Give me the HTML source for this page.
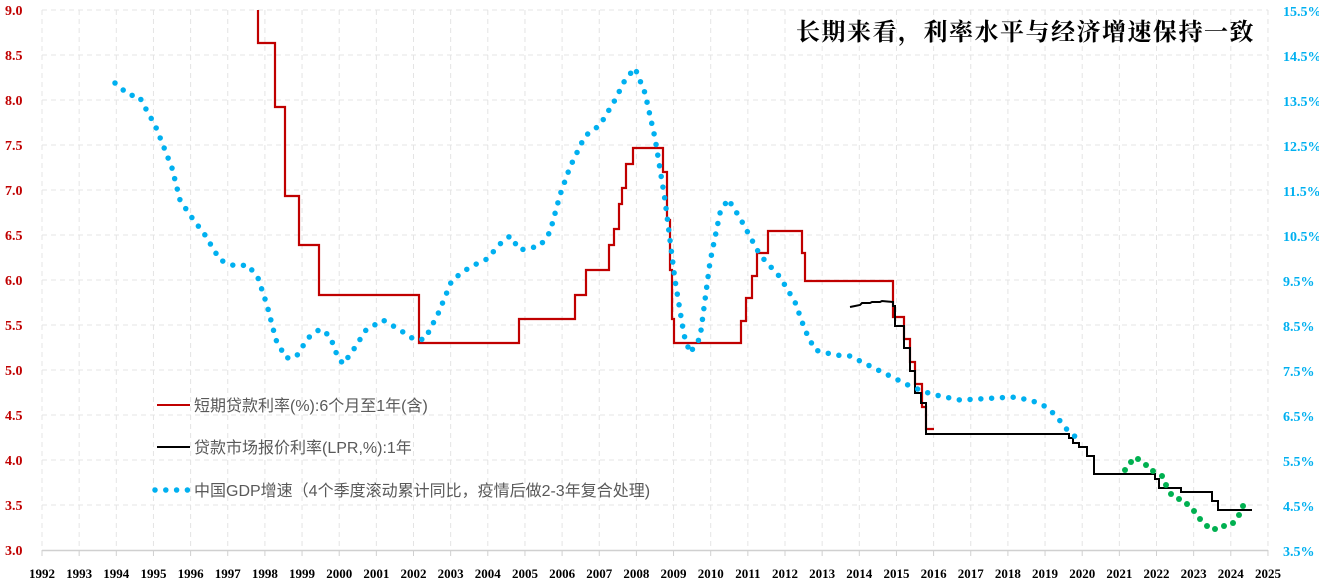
<!DOCTYPE html>
<html><head><meta charset="utf-8"><style>
body{margin:0;background:#fff;}
svg{display:block;font-family:"Liberation Sans","Noto Sans CJK SC",sans-serif;}
</style></head><body>
<svg width="1319" height="586" viewBox="0 0 1319 586">
<g id="grid" stroke="#e4e4e4" stroke-width="1" stroke-dasharray="5,4"></g>
<line x1="42" y1="550.5" x2="1268" y2="550.5" stroke="#d0d0d0" stroke-width="1.5"/>
<g id="ticks" stroke="#d0d0d0"></g>
<g id="ylab" font-size="14" fill="#c00000" font-weight="bold" font-family="Liberation Serif,serif"></g>
<g id="rlab" font-size="14" fill="#00b0f0" font-weight="bold" font-family="Liberation Serif,serif"></g>
<g id="xlab" font-size="13" fill="#000" font-weight="bold" font-family="Liberation Serif,serif" text-anchor="middle"></g>

<polyline fill="none" stroke="#c00000" stroke-width="2.2" points="258,10 258,43 275,43 275,107 285,107 285,196 299,196 299,245 319,245 319,295 419,295 419,343 519,343 519,319 575,319 575,295 586,295 586,270 609,270 609,245 614,245 614,229 619,229 619,204 622,204 622,188 626,188 626,164 633,164 633,148 663,148 663,172 667,172 667,220 670,220 670,270 672,270 672,319 674,319 674,343 741,343 741,321 746,321 746,298 752,298 752,276 757,276 757,253 768,253 768,231 802,231 802,253 805,253 805,281 893,281 893,317 904,317 904,339 910,339 910,362 915,362 915,384 922,384 922,407 926,407 926,429 934,429"/>
<polyline fill="none" stroke="#000" stroke-width="2" points="850,307 855,306 860,305 862,303 870,303 872,302 880,302 882,301 893,302 893,306 895,306 895,326 904,326 904,348 910,348 910,371 915,371 915,393 921,393 921,403 926,403 926,434 1069,434 1069,438 1073,438 1073,443 1079,443 1079,447 1087,447 1087,456 1094,456 1094,474 1155,474 1155,479 1159,479 1159,488 1181,488 1181,492 1212,492 1212,501 1218,501 1218,510 1252,510"/>

<path fill="none" stroke="#00b0f0" stroke-width="5.5" stroke-linecap="round" stroke-dasharray="0 10.8" d="M115,83 L129,95 L139,96 L147,111 L155,125 L163,145 L172,168 L180,200 L190,215 L205,235 L220,260 L235,266 L248,265 L258,278 L267,305 L276,340 L286,358 L296,357 L308,338 L320,329 L330,336 L337,355 L343,364 L352,352 L366,330 L383,320 L400,330 L415,340 L425,339 L438,314 L452,280 L470,267 L487,259 L500,244 L510,236 L520,250 L540,246 L550,232 L560,195 L570,167 L585,136 L600,125 L615,100 L625,80 L635,68 L645,93 L655,138 L665,200 L675,280 L684,335 L690,353 L700,338 L710,262 L720,213 L728,199 L740,218 L760,255 L780,277 L795,302 L805,330 L815,350 L835,355 L850,356 L870,366 L890,376 L910,386 L925,392 L940,396 L960,400 L978,399 L995,398 L1012,397 L1030,400 L1043,405 L1052,412 L1062,423 L1068,431 L1077,438"/>
<g fill="#00b050">
<circle cx="1125" cy="470" r="3"/><circle cx="1131" cy="462" r="3"/><circle cx="1138" cy="459" r="3"/><circle cx="1146" cy="465" r="3"/><circle cx="1153" cy="471" r="3"/><circle cx="1162" cy="476" r="3"/><circle cx="1166" cy="485" r="3"/><circle cx="1171" cy="494" r="3"/><circle cx="1179" cy="499" r="3"/><circle cx="1187" cy="504" r="3"/><circle cx="1194" cy="511" r="3"/><circle cx="1200" cy="519" r="3"/><circle cx="1207" cy="526" r="3"/><circle cx="1215" cy="529" r="3"/><circle cx="1224" cy="526" r="3"/><circle cx="1233" cy="523" r="3"/><circle cx="1239" cy="515" r="3"/><circle cx="1243" cy="506" r="3"/>
</g>

<text x="1255" y="40" text-anchor="end" font-size="24" font-weight="bold" fill="#000" font-family="Liberation Serif,'Noto Serif CJK SC',serif" letter-spacing="1.5">长期来看，利率水平与经济增速保持一致</text>

<line x1="157" y1="405" x2="190" y2="405" stroke="#c00000" stroke-width="2"/>
<text x="194" y="411" font-size="16" fill="#595959">短期贷款利率(%):6个月至1年(含)</text>
<line x1="157" y1="447" x2="190" y2="447" stroke="#000" stroke-width="2"/>
<text x="194" y="453" font-size="16" fill="#595959">贷款市场报价利率(LPR,%):1年</text>
<line x1="155" y1="490" x2="190" y2="490" stroke="#00b0f0" stroke-width="5.5" stroke-linecap="round" stroke-dasharray="0 10.8"/>
<text x="194" y="496" font-size="16" fill="#595959">中国GDP增速（4个季度滚动累计同比，疫情后做2-3年复合处理)</text>
</svg>
<script>
var ns="http://www.w3.org/2000/svg";
function el(p,t,a,txt){var e=document.createElementNS(ns,t);for(var k in a)e.setAttribute(k,a[k]);if(txt)e.textContent=txt;document.getElementById(p).appendChild(e);}
for(var i=0;i<=33;i++){var x=42+i*37.15;el("grid","line",{x1:x,y1:10,x2:x,y2:550});el("ticks","line",{x1:x,y1:550,x2:x,y2:556});el("xlab","text",{x:x,y:578},String(1992+i));}
for(var j=0;j<=12;j++){var y=550-j*45;if(j>0)el("grid","line",{x1:42,y1:y,x2:1268,y2:y});el("ylab","text",{x:5,y:y+5},(3+j*0.5).toFixed(1));el("rlab","text",{x:1283,y:y+6},(3.5+j).toFixed(1)+"%");}
</script>
</body></html>
